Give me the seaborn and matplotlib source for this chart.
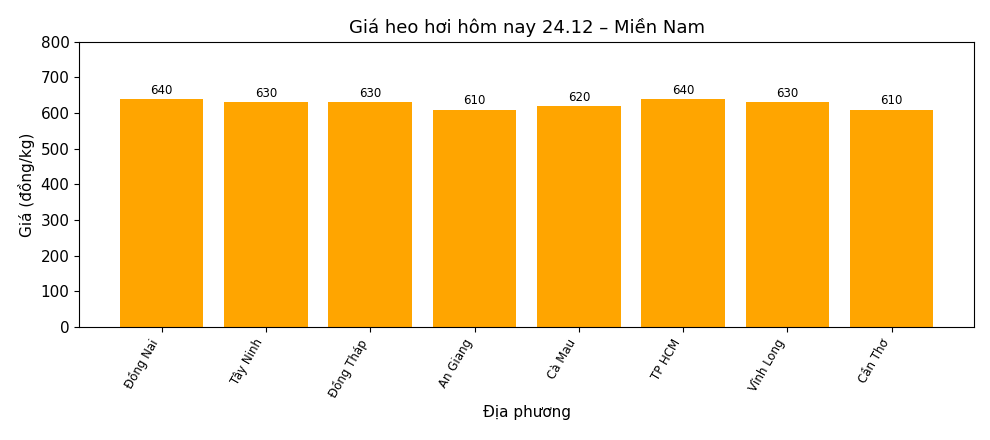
import matplotlib
matplotlib.use("Agg")
import matplotlib.pyplot as plt
import pandas as pd
import seaborn as sns

provinces = ["Đồng Nai", "Tây Ninh", "Đồng Tháp", "An Giang", "Cà Mau", "TP HCM", "Vĩnh Long", "Cần Thơ"]
prices = [640, 630, 630, 610, 620, 640, 630, 610]

df = pd.DataFrame({"province": provinces, "price": prices})

fig, ax = plt.subplots(figsize=(9.9, 4.4), dpi=100)
fig.subplots_adjust(left=0.08, right=0.984, top=0.905, bottom=0.257)

sns.barplot(data=df, x="province", y="price", color="#FFA500", saturation=1, width=0.8, ax=ax)

for i, v in enumerate(prices):
    ax.text(i, v + 6, str(v), ha="center", va="bottom", fontsize=8.5)

ax.set_ylim(0, 800)
ax.set_xlim(-0.79, 7.79)
ax.set_title("Giá heo hơi hôm nay 24.12 – Miền Nam", fontsize=13)
ax.set_xlabel("Địa phương", fontsize=11)
ax.set_ylabel("Giá (đồng/kg)", fontsize=11)
plt.setp(ax.get_xticklabels(), rotation=60, ha="right", fontsize=8.5)
ax.tick_params(axis="y", labelsize=11)

fig.savefig("out.png", dpi=100)
